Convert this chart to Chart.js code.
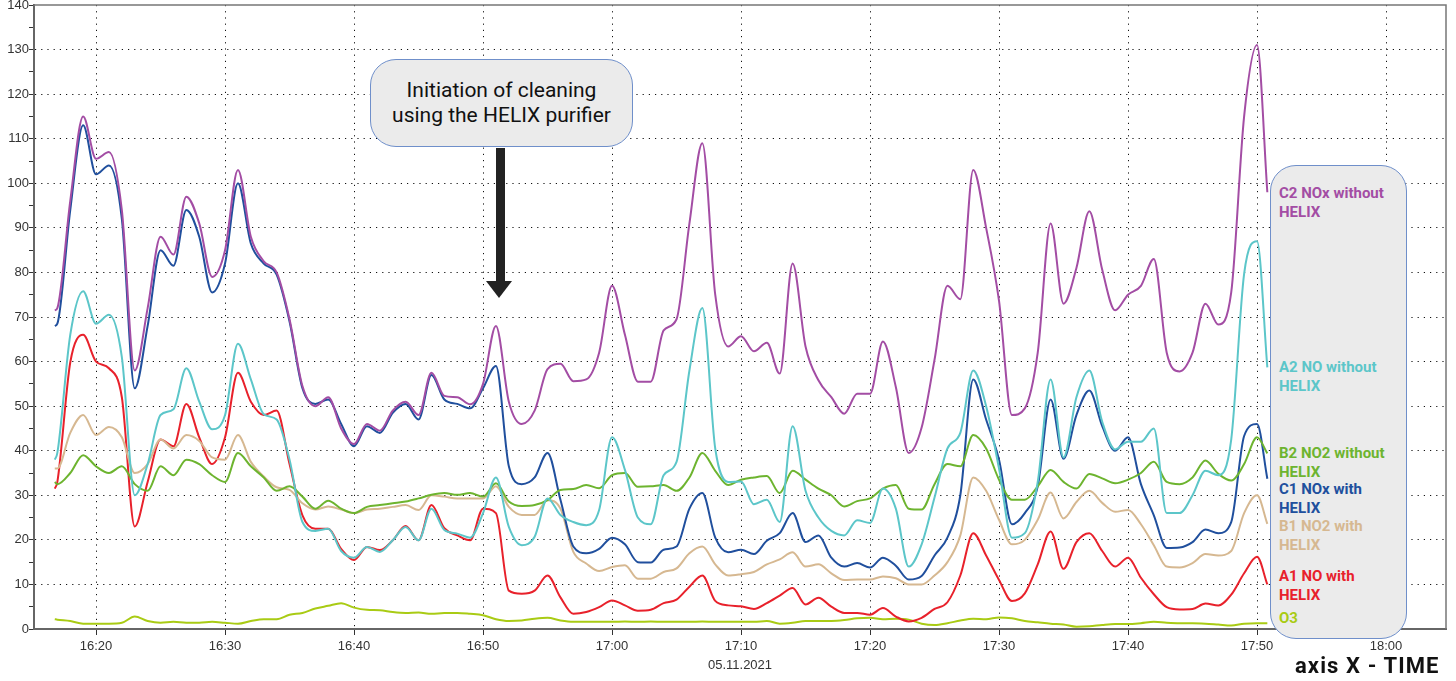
<!DOCTYPE html>
<html>
<head>
<meta charset="utf-8">
<script src="https://cdn.jsdelivr.net/npm/chart.js@4.4.1/dist/chart.umd.min.js"></script>
<style>
html,body{margin:0;padding:0;background:#fff;}
#wrap{position:relative;width:1456px;height:681px;overflow:hidden;background:#fff;}
#c{position:absolute;left:0;top:0;}
.callout{position:absolute;left:370px;top:59px;width:263px;height:88px;box-sizing:border-box;border:1.5px solid #6f8fca;border-radius:26px;background:#ebebeb;font-family:Roboto,sans-serif;font-size:21px;line-height:25px;color:#111;text-align:center;padding-top:18px;}
.shaft{position:absolute;left:496px;top:148px;width:9px;height:134px;background:#222;}
.head{position:absolute;left:486px;top:281px;width:0;height:0;border-left:13.5px solid transparent;border-right:13.5px solid transparent;border-top:17px solid #222;}
.legendbox{position:absolute;left:1270px;top:165px;width:137px;height:474px;box-sizing:border-box;border:1.5px solid #6f8fca;border-radius:26px;background:#ebebeb;}
.lg{position:absolute;left:1279px;font-family:Roboto,sans-serif;font-weight:bold;font-size:15px;line-height:19px;white-space:nowrap;}
.axtitle{position:absolute;left:1295px;top:653px;font-family:Roboto,sans-serif;font-weight:bold;font-size:22px;letter-spacing:1.1px;color:#111;white-space:nowrap;}
</style>
</head>
<body>
<div id="wrap">
<canvas id="c" width="1456" height="681"></canvas>
<div class="callout">Initiation of cleaning<br>using the HELIX purifier</div>
<div class="shaft"></div>
<div class="head"></div>
<div class="legendbox"></div>
<div id="legend"></div>
<div class="axtitle">axis X - TIME</div>
</div>
<script>
// time in minutes after 16:00 on 05.11.2021
const timeMin = [16.8,17,18,19,20,21,22,23,24,25,
  26,27,28,29,30,31,32,33,34,35,
  36,37,38,39,40,41,42,43,44,45,
  46,47,48,49,50,51,52,53,54,55,
  56,57,58,59,60,61,62,63,64,65,
  66,67,68,69,70,71,72,73,74,75,
  76,77,78,79,80,81,82,83,84,85,
  86,87,88,89,90,91,92,93,94,95,
  96,97,98,99,100,101,102,103,104,105,
  106,107,108,109,110,110.8];

const c2NOxWithout = [71.5,72,96,115,105.5,107,94,58,72,88,
  84,97,91,79,85,103,88,82.5,80,69.5,
  54.5,50,52,45,41.5,46,44.5,49,51,48,
  57.5,52.3,52,50.4,55,68,51,46,49,58.3,
  59.5,55.6,56,62,77,66,55.5,55.5,67,69.5,
  91,109,75,63.4,65.7,62.3,64.2,57.3,82,63.4,
  55.8,52,48.3,52.8,52.8,64.5,54.3,39.5,45.2,60.4,
  77,74,103,90,73.6,48,49.5,62,91,73,
  81,93.7,80.6,71.5,75,77,83,62,57.8,62,
  73,68.3,75.5,115,131,98];

const a2NOWithout = [38,39.5,66,75.8,68.5,70.5,61,30,37,48,
  49.3,58.5,51,44.8,48,64,56,48.2,47,38,
  24,22,22.5,17.5,16,18.4,17.3,19.9,22.9,19.9,
  27,22.2,21.4,20.5,26,34,22.9,18.8,20.7,29.3,
  25.6,24,23.3,26.7,43,35.7,25,23.5,34.5,37.5,
  58,72,40.5,33,33.1,28,29,24,45.5,31,
  25,22,21,24.4,23.8,31.5,27,14,19,29.5,
  40.5,44,58,50,36,20.5,21.5,33,56,38.5,
  52,58,46.5,40.3,42,42,45,26,26,30,
  35.5,34.5,42.5,79.7,87,58.7];

const b2NO2Without = [33,32.5,35,39,36.5,35,36.5,32.5,31,36.5,
  34.5,38,37,34.5,33,39.5,36.5,34,31,32,
  29.7,27,28.8,27,26,27.4,27.8,28.2,28.6,29.3,
  30.1,30.5,30.1,30.5,29.7,32.7,28.6,27.6,27.8,28.9,
  31.2,31.4,32.3,31.6,34.5,35,31.9,32,32.3,31,
  34,39.5,35.5,32.3,33.5,34,34.3,30.5,35.5,33.5,
  31.5,30,27.5,28.7,29.3,31.5,32.3,27,26.8,32.5,
  37,36.5,43.5,40.5,33.5,29,29,32,35.7,33,
  31.5,34.8,33.8,32.7,33.5,35,37.5,33,32.5,34,
  37.8,34.8,33.3,37,43,39.4];

const c1NOxWith = [68,68.5,94,113,102,104,92,54,68,85,
  81.5,94,88,75.5,82,100,86.5,82,79.5,69,
  54,50.5,51.5,46,41,45.5,44,48.5,50.5,47,
  57,51.5,50.5,49.5,54,59,36.5,32.5,34,39.5,
  29,18.5,17,18,20.5,19,15,14.9,17.8,18.5,
  27,30.5,20.5,17.2,17.8,16.8,19.8,21.5,26,19.5,
  21,16,14,14.8,13.8,16,14.2,11.1,11.9,16.5,
  20.5,30,56,47,38,23.5,26,32,51.5,38.2,
  48,53.5,45.5,40,43,32.5,25.5,18.2,18.3,19.5,
  22.3,21.5,24,43.3,46,33.7];

const b1NO2With = [36,36,44,48,43.5,45.3,43,35,37,42.5,
  40.5,43.5,42.2,38.5,38,43.5,37.5,34.2,31.8,31.2,
  28.2,26.8,27.5,26.8,26,26.8,27,27.4,27.8,26.7,
  30,29.7,29.3,29.3,29.3,32,27.4,25.6,25.6,28.9,
  27,17.3,14.7,13,13.9,14.3,11.3,11.3,12.8,13.6,
  17,18.5,14.5,12,12.3,12.8,14.5,15.6,17.2,14,
  14.5,12.5,11,11.1,11.1,11.8,11.4,10,10,12,
  15,21,34,31,24.5,19,20,24.5,30.6,24.8,
  28.5,31,28.3,26.3,26.7,23.5,18.8,14,13.8,14.8,
  16.8,16.5,17.5,26,30,23.6];

const a1NOWith = [31.5,33,59.8,66,60,58.5,52,23,33,42.5,
  41,50.5,43,37,43,57.5,51,48,49,37,
  25.5,22.5,22.5,18,15.5,18.4,17.7,19.9,23.1,19.9,
  27.8,22.6,21,19.9,27,26,8.6,7.9,8.6,12,
  7.1,3.4,3.8,4.9,6.4,5.3,4.1,4.3,5.8,6.6,
  9.5,12,6.3,5.3,5.1,4.5,5.8,7.5,9.2,5.5,
  7,5,3.6,3.6,3.2,4.7,2.8,1.7,2.5,4.5,
  6,12,21.5,16.5,11,6.3,8,14.5,21.9,13.5,
  19.5,21.5,17.5,14,16,11.5,7.8,4.9,4.4,4.5,
  5.7,5.3,7.7,12.5,16.2,10];

const o3 = [2.2,2.1,1.8,1.2,1.2,1.2,1.4,2.8,1.8,1.4,
  1.6,1.4,1.4,1.6,1.4,1.2,1.8,2.2,2.2,3.2,
  3.6,4.6,5.2,5.8,4.8,4.3,4.2,3.8,3.6,3.7,
  3.4,3.6,3.6,3.4,3.1,2.2,1.8,1.9,2.3,2.5,
  1.9,1.6,1.6,1.6,1.6,1.7,1.6,1.7,1.6,1.6,
  1.6,1.7,1.6,1.6,1.6,1.6,1.8,1.2,1.4,1.8,
  1.8,1.8,2.0,2.4,2.5,2.2,2.3,2.1,1.2,0.9,
  1.3,1.9,2.3,2.2,2.6,2.4,1.8,1.5,1.2,1.0,
  0.5,0.6,0.9,1.1,1.1,1.3,1.6,1.4,1.3,1.3,
  1.2,1.0,0.8,1.2,1.3,1.3];

const seriesNames = ['C2 NOx without HELIX','A2 NO without HELIX','B2 NO2 without HELIX','C1 NOx with HELIX','B1 NO2 with HELIX','A1 NO with HELIX','O3'];
const xTickValues = [20,30,40,50,60,70,80,90,100,110,120];
const xTickLabels = ['16:20','16:30','16:40','16:50','17:00','17:10','17:20','17:30','17:40','17:50','18:00'];
const yTickValues = [0,5,10,15,20,25,30,35,40,45,50,55,60,65,70,75,80,85,90,95,100,105,110,115,120,125,130,135,140];
const xAxisTitle = '05.11.2021';

// styling
const colors = ['#a34da4','#5cc6c9','#6db42f','#204f9d','#d6b891','#e8212b','#a9cb14'];
const seriesValues = [c2NOxWithout,a2NOWithout,b2NO2Without,c1NOxWith,b1NO2With,a1NOWith,o3];
const legendTops = [183.5,357.5,444,479.5,517,566.5,608.5];

const frame = {
  id:'frame',
  afterDatasetsDraw(chart){
    const {ctx, chartArea:a} = chart;
    ctx.save();
    ctx.strokeStyle = '#777';
    ctx.lineWidth = 1.5;
    ctx.beginPath();
    ctx.moveTo(a.left, a.top);
    ctx.lineTo(a.right, a.top);
    ctx.lineTo(a.right, a.bottom);
    ctx.stroke();
    ctx.restore();
  }
};

const datasets = seriesNames.map((name,i)=>({
  label:name,
  data: timeMin.map((t,j)=>({x:t, y:seriesValues[i][j]})),
  borderColor: colors[i],
  borderWidth: 2,
  pointRadius: 0,
  fill: false,
  cubicInterpolationMode: 'monotone'
}));

const tickFont = {family:'"Liberation Sans", Arial, sans-serif', size:13};

new Chart(document.getElementById('c'), {
  type:'line',
  data:{datasets},
  options:{
    responsive:false,
    animation:false,
    layout:{padding:{top:5,right:10,left:0,bottom:0}},
    plugins:{legend:{display:false}, tooltip:{enabled:false}},
    scales:{
      x:{
        type:'linear', min:15.19, max:124.65,
        afterBuildTicks:(s)=>{ s.ticks = xTickValues.map(v=>({value:v})); },
        ticks:{
          callback:(v)=>{ const k = xTickValues.indexOf(v); return k>=0 ? xTickLabels[k] : ''; },
          font:tickFont, color:'#333', padding:4, maxRotation:0, autoSkip:false
        },
        grid:{color:'#111', lineWidth:1, tickColor:'#333', tickLength:6},
        border:{display:true, color:'#666', width:2, dash:[1.2,5]},
        title:{display:true, text:xAxisTitle, font:tickFont, color:'#333', padding:{top:0,bottom:8}},
        afterFit:(s)=>{ s.height = 52; s.paddingLeft = 0; s.paddingRight = 0; }
      },
      y:{
        min:0, max:140,
        afterBuildTicks:(s)=>{ s.ticks = yTickValues.map(v=>({value:v})); },
        ticks:{
          callback:(v)=> (v % 10 === 0 ? String(v) : ''),
          font:tickFont, color:'#333', padding:0, autoSkip:false
        },
        grid:{
          color:(c)=> (c.tick && c.tick.value % 10 === 0 && c.tick.value > 0 && c.tick.value < 140) ? '#111' : 'rgba(0,0,0,0)',
          lineWidth:1, tickColor:'#333', tickLength:5
        },
        border:{display:true, color:'#666', width:2, dash:[1.2,5]},
        afterFit:(s)=>{ s.width = 34; s.paddingTop = 0; s.paddingBottom = 0; }
      }
    }
  },
  plugins:[frame]
});

// legend labels (real text)
const lg = document.getElementById('legend');
seriesNames.forEach((name,i)=>{
  const d = document.createElement('div');
  d.className = 'lg';
  d.style.top = legendTops[i] + 'px';
  d.style.color = colors[i];
  const k = name.indexOf(' HELIX');
  if (k >= 0) {
    d.appendChild(document.createTextNode(name.slice(0,k)));
    d.appendChild(document.createElement('br'));
    d.appendChild(document.createTextNode(name.slice(k+1)));
  } else {
    d.textContent = name;
  }
  lg.appendChild(d);
});
</script>
</body>
</html>
